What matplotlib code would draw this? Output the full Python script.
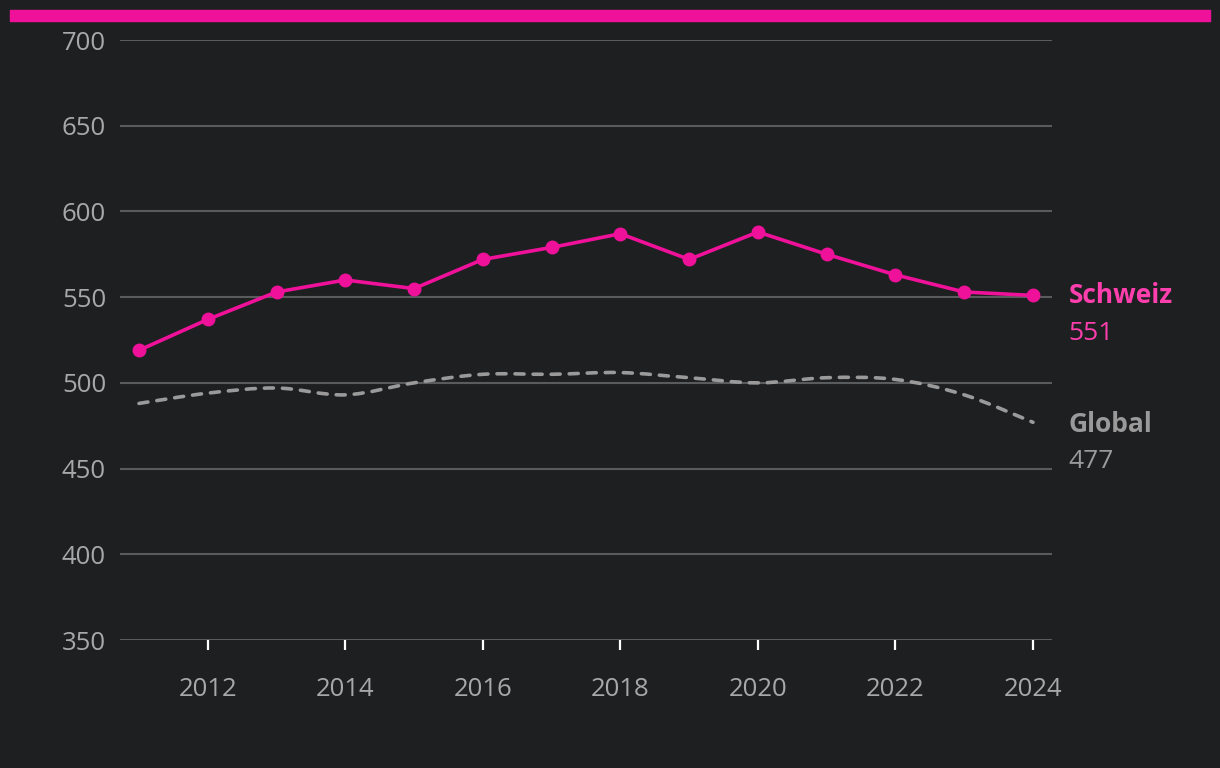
import matplotlib
matplotlib.use('Agg')
import matplotlib.pyplot as plt
from matplotlib.path import Path
from matplotlib.patches import PathPatch

# Daten
jahre = [2011, 2012, 2013, 2014, 2015, 2016, 2017, 2018, 2019, 2020, 2021, 2022, 2023, 2024]
schweiz = [519, 537, 553, 560, 555, 572, 579, 587, 572, 588, 575, 563, 553, 551]
glob = [488, 494, 497, 493, 500, 505, 505, 506, 503, 500, 503, 502, 493, 477]
y_ticks = [350, 400, 450, 500, 550, 600, 650, 700]
x_ticks = [2012, 2014, 2016, 2018, 2020, 2022, 2024]

bg = '#1e1f21'
pink = '#f0119a'
pink_txt = '#ff3fae'
grau = '#9a9a9a'

plt.rcParams['font.family'] = ['Open Sans', 'DejaVu Sans']

fig = plt.figure(figsize=(12.2, 7.68), dpi=100, facecolor=bg)
ax = fig.add_axes([120 / 1220, 1 - 640 / 768, (1052 - 120) / 1220, 600 / 768])
ax.set_facecolor(bg)

# Balken oben
fig.patches.append(plt.Rectangle((10 / 1220, 1 - 21 / 768), 1200 / 1220, 11 / 768,
                                 transform=fig.transFigure, color=pink, zorder=0))

for y in y_ticks:
    ax.axhline(y, color='#5a5b5d', lw=1.5, zorder=1)

# geglättete Linie Global (Catmull-Rom als Bezier)
pts = list(zip(jahre, glob))
verts = [pts[0]]
codes = [Path.MOVETO]
for i in range(len(pts) - 1):
    p0 = pts[i - 1] if i > 0 else pts[i]
    p1 = pts[i]
    p2 = pts[i + 1]
    p3 = pts[i + 2] if i + 2 < len(pts) else pts[i + 1]
    c1 = (p1[0] + (p2[0] - p0[0]) / 6, p1[1] + (p2[1] - p0[1]) / 6)
    c2 = (p2[0] - (p3[0] - p1[0]) / 6, p2[1] - (p3[1] - p1[1]) / 6)
    verts += [c1, c2, p2]
    codes += [Path.CURVE4] * 3
ax.add_patch(PathPatch(Path(verts, codes), fill=False, edgecolor=grau, lw=2.6,
                       linestyle=(0, (2.5, 2.5)), capstyle='round', zorder=2))

ax.plot(jahre, schweiz, color=pink, lw=2.6, marker='o', markersize=9, zorder=3)

ax.set_xlim(2011 - 19 / 68.75, 2024 + 19 / 68.75)
ax.set_ylim(350, 700)
ax.set_yticks(y_ticks)
ax.set_xticks(x_ticks)
ax.tick_params(axis='y', length=0, pad=10, labelsize=18.5, labelcolor='#a8a8a8')
ax.tick_params(axis='x', length=7, width=1.6, color='white', pad=20, labelsize=18.5,
               labelcolor='#a8a8a8', direction='out')
for s in ax.spines.values():
    s.set_visible(False)

ax.text(1.018, 551, 'Schweiz', transform=ax.get_yaxis_transform(), color=pink_txt,
        fontsize=19, fontweight='bold', va='center', ha='left')
ax.text(1.018, 529, '551', transform=ax.get_yaxis_transform(), color=pink_txt,
        fontsize=19, va='center', ha='left')
ax.text(1.018, 476, 'Global', transform=ax.get_yaxis_transform(), color=grau,
        fontsize=19, fontweight='bold', va='center', ha='left')
ax.text(1.018, 454, '477', transform=ax.get_yaxis_transform(), color=grau,
        fontsize=19, va='center', ha='left')

fig.savefig('out.png', dpi=100, facecolor=bg)
